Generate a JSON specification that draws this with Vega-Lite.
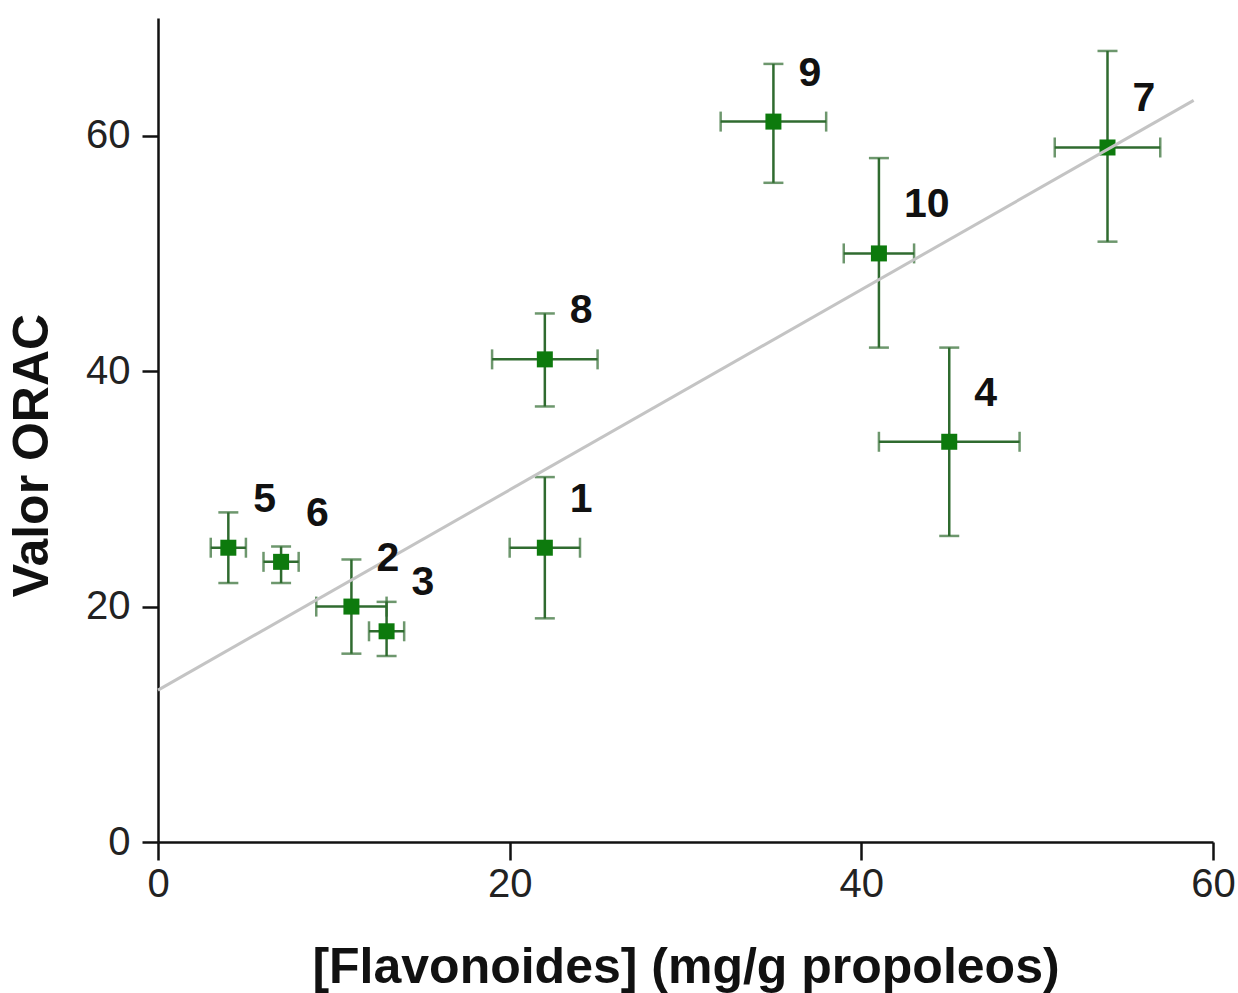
{
  "$schema": "https://vega.github.io/schema/vega-lite/v6.json",
  "width": 1055,
  "height": 824,
  "autosize": {"type": "none"},
  "padding": {"left": 158, "top": 18, "right": 25, "bottom": 151},
  "background": "white",
  "config": {
    "view": {"stroke": null},
    "font": "Liberation Sans",
    "axis": {
      "grid": false,
      "domainColor": "#111111",
      "domainWidth": 2.5,
      "tickColor": "#111111",
      "tickWidth": 2.5,
      "labelColor": "#222222",
      "labelFont": "Liberation Sans",
      "labelFontSize": 40,
      "labelFlush": false,
      "titleFont": "Liberation Sans",
      "titleFontSize": 50,
      "titleFontWeight": "bold",
      "titleColor": "#111111"
    }
  },
  "datasets": {
    "pts": [
      {"id": "1", "x": 22, "y": 25, "xlo": 20, "xhi": 24, "ylo": 19, "yhi": 31},
      {"id": "2", "x": 11, "y": 20, "xlo": 9, "xhi": 13, "ylo": 16, "yhi": 24},
      {"id": "3", "x": 13, "y": 17.9, "xlo": 12, "xhi": 14, "ylo": 15.8, "yhi": 20.4},
      {"id": "4", "x": 45, "y": 34, "xlo": 41, "xhi": 49, "ylo": 26, "yhi": 42},
      {"id": "5", "x": 4, "y": 25, "xlo": 3, "xhi": 5, "ylo": 22, "yhi": 28},
      {"id": "6", "x": 7, "y": 23.8, "xlo": 6, "xhi": 8, "ylo": 22, "yhi": 25.1},
      {"id": "7", "x": 54, "y": 59, "xlo": 51, "xhi": 57, "ylo": 51, "yhi": 67.2},
      {"id": "8", "x": 22, "y": 41, "xlo": 19, "xhi": 25, "ylo": 37, "yhi": 44.9},
      {"id": "9", "x": 35, "y": 61.2, "xlo": 32, "xhi": 38, "ylo": 56, "yhi": 66.1},
      {"id": "10", "x": 41, "y": 50, "xlo": 39, "xhi": 43, "ylo": 42, "yhi": 58.1}
    ],
    "fit": [
      {"x": 0, "y": 12.9},
      {"x": 58.9, "y": 63}
    ]
  },
  "layer": [
    {
      "data": {"name": "pts"},
      "mark": {"type": "errorbar", "color": "#2f6b2f", "thickness": 2.5, "rule": {"strokeWidth": 2.5, "color": "#2f6b2f"}, "ticks": {"size": 20, "color": "#2f6b2f", "strokeWidth": 2.5}},
      "encoding": {
        "x": {"field": "x", "type": "quantitative", "title": "[Flavonoides] (mg/g propoleos)", "scale": {"domain": [0, 60], "nice": false},
              "axis": {"values": [0, 20, 40, 60], "tickSize": 18, "labelPadding": 4, "titlePadding": 38}},
        "y": {"field": "ylo", "type": "quantitative", "title": "Valor ORAC", "scale": {"domain": [0, 70], "nice": false},
              "axis": {"values": [0, 20, 40, 60], "tickSize": 16, "labelPadding": 12, "titlePadding": 28, "titleY": 437}},
        "y2": {"field": "yhi"}
      }
    },
    {
      "data": {"name": "pts"},
      "mark": {"type": "errorbar", "color": "#2f6b2f", "thickness": 2.5, "rule": {"strokeWidth": 2.5, "color": "#2f6b2f"}, "ticks": {"size": 20, "color": "#2f6b2f", "strokeWidth": 2.5}},
      "encoding": {
        "y": {"field": "y", "type": "quantitative", "title": "Valor ORAC"},
        "x": {"field": "xlo", "type": "quantitative", "title": "[Flavonoides] (mg/g propoleos)"},
        "x2": {"field": "xhi"}
      }
    },
    {
      "data": {"name": "pts"},
      "mark": {"type": "square", "size": 256, "color": "#0d7a0d", "opacity": 1, "filled": true},
      "encoding": {
        "x": {"field": "x", "type": "quantitative", "title": "[Flavonoides] (mg/g propoleos)"},
        "y": {"field": "y", "type": "quantitative", "title": "Valor ORAC"}
      }
    },
    {
      "data": {"name": "fit"},
      "mark": {"type": "line", "color": "#c4c4c4", "strokeWidth": 3},
      "encoding": {
        "x": {"field": "x", "type": "quantitative", "title": "[Flavonoides] (mg/g propoleos)"},
        "y": {"field": "y", "type": "quantitative", "title": "Valor ORAC"}
      }
    },
    {
      "data": {"name": "pts"},
      "mark": {"type": "text", "align": "left", "baseline": "middle", "dx": 25, "dy": -48, "fontSize": 41, "fontWeight": "bold", "font": "Liberation Sans", "color": "#111111"},
      "encoding": {
        "x": {"field": "x", "type": "quantitative", "title": "[Flavonoides] (mg/g propoleos)"},
        "y": {"field": "y", "type": "quantitative", "title": "Valor ORAC"},
        "text": {"field": "id"}
      }
    }
  ]
}
